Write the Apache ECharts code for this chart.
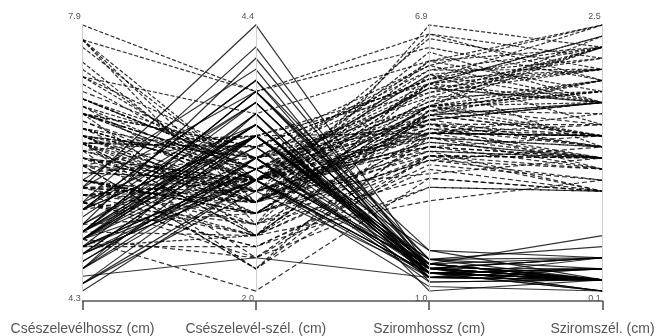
<!DOCTYPE html>
<html><head><meta charset="utf-8">
<script src="https://cdn.jsdelivr.net/npm/echarts@6/dist/echarts.min.js"></script>
<style>html,body{margin:0;background:#fff}#c{width:658px;height:336px;filter:blur(.7px)}</style>
</head><body><div id="c"></div>
<script>
const axisNames=['Csészelevélhossz (cm)','Csészelevél-szél. (cm)','Sziromhossz (cm)','Sziromszél. (cm)'];
const axisMin=[4.3,2.0,1.0,0.1];
const axisMax=[7.9,4.4,6.9,2.5];
const setosaSL=[5.1,4.9,4.7,4.6,5.0,5.4,4.6,5.0,4.4,4.9,5.4,4.8,4.8,4.3,5.8,5.7,5.4,5.1,5.7,5.1,5.4,5.1,4.6,5.1,4.8,5.0,5.0,5.2,5.2,4.7,4.8,5.4,5.2,5.5,4.9,5.0,5.5,4.9,4.4,5.1,5.0,4.5,4.4,5.0,5.1,4.8,5.1,4.6,5.3,5.0];
const setosaSW=[3.5,3.0,3.2,3.1,3.6,3.9,3.4,3.4,2.9,3.1,3.7,3.4,3.0,3.0,4.0,4.4,3.9,3.5,3.8,3.8,3.4,3.7,3.6,3.3,3.4,3.0,3.4,3.5,3.4,3.2,3.1,3.4,4.1,4.2,3.1,3.2,3.5,3.6,3.0,3.4,3.5,2.3,3.2,3.5,3.8,3.0,3.8,3.2,3.7,3.3];
const setosaPL=[1.4,1.4,1.3,1.5,1.4,1.7,1.4,1.5,1.4,1.5,1.5,1.6,1.4,1.1,1.2,1.5,1.3,1.4,1.7,1.5,1.7,1.5,1.0,1.7,1.9,1.6,1.6,1.5,1.4,1.6,1.6,1.5,1.5,1.4,1.5,1.2,1.3,1.4,1.3,1.5,1.3,1.3,1.3,1.6,1.9,1.4,1.6,1.4,1.5,1.4];
const setosaPW=[0.2,0.2,0.2,0.2,0.2,0.4,0.3,0.2,0.2,0.1,0.2,0.2,0.1,0.1,0.2,0.4,0.4,0.3,0.3,0.3,0.2,0.4,0.2,0.5,0.2,0.2,0.4,0.2,0.2,0.2,0.2,0.4,0.1,0.2,0.2,0.2,0.2,0.1,0.2,0.2,0.3,0.3,0.2,0.6,0.4,0.3,0.2,0.2,0.2,0.2];
const versiSL=[7.0,6.4,6.9,5.5,6.5,5.7,6.3,4.9,6.6,5.2,5.0,5.9,6.0,6.1,5.6,6.7,5.6,5.8,6.2,5.6,5.9,6.1,6.3,6.1,6.4,6.6,6.8,6.7,6.0,5.7,5.5,5.5,5.8,6.0,5.4,6.0,6.7,6.3,5.6,5.5,5.5,6.1,5.8,5.0,5.6,5.7,5.7,6.2,5.1,5.7];
const versiSW=[3.2,3.2,3.1,2.3,2.8,2.8,3.3,2.4,2.9,2.7,2.0,3.0,2.2,2.9,2.9,3.1,3.0,2.7,2.2,2.5,3.2,2.8,2.5,2.8,2.9,3.0,2.8,3.0,2.9,2.6,2.4,2.4,2.7,2.7,3.0,3.4,3.1,2.3,3.0,2.5,2.6,3.0,2.6,2.3,2.7,3.0,2.9,2.9,2.5,2.8];
const versiPL=[4.7,4.5,4.9,4.0,4.6,4.5,4.7,3.3,4.6,3.9,3.5,4.2,4.0,4.7,3.6,4.4,4.5,4.1,4.5,3.9,4.8,4.0,4.9,4.7,4.3,4.4,4.8,5.0,4.5,3.5,3.8,3.7,3.9,5.1,4.5,4.5,4.7,4.4,4.1,4.0,4.4,4.6,4.0,3.3,4.2,4.2,4.2,4.3,3.0,4.1];
const versiPW=[1.4,1.5,1.5,1.3,1.5,1.3,1.6,1.0,1.3,1.4,1.0,1.5,1.0,1.4,1.3,1.4,1.5,1.0,1.5,1.1,1.8,1.3,1.5,1.2,1.3,1.4,1.4,1.7,1.5,1.0,1.1,1.0,1.2,1.6,1.5,1.6,1.5,1.3,1.3,1.3,1.2,1.4,1.2,1.0,1.3,1.2,1.3,1.3,1.1,1.3];
const virgiSL=[6.3,5.8,7.1,6.3,6.5,7.6,4.9,7.3,6.7,7.2,6.5,6.4,6.8,5.7,5.8,6.4,6.5,7.7,7.7,6.0,6.9,5.6,7.7,6.3,6.7,7.2,6.2,6.1,6.4,7.2,7.4,7.9,6.4,6.3,6.1,7.7,6.3,6.4,6.0,6.9,6.7,6.9,5.8,6.8,6.7,6.7,6.3,6.5,6.2,5.9];
const virgiSW=[3.3,2.7,3.0,2.9,3.0,3.0,2.5,2.9,2.5,3.6,3.2,2.7,3.0,2.5,2.8,3.2,3.0,3.8,2.6,2.2,3.2,2.8,2.8,2.7,3.3,3.2,2.8,3.0,2.8,3.0,2.8,3.8,2.8,2.8,2.6,3.0,3.4,3.1,3.0,3.1,3.1,3.1,2.7,3.2,3.3,3.0,2.5,3.0,3.4,3.0];
const virgiPL=[6.0,5.1,5.9,5.6,5.8,6.6,4.5,6.3,5.8,6.1,5.1,5.3,5.5,5.0,5.1,5.3,5.5,6.7,6.9,5.0,5.7,4.9,6.7,4.9,5.7,6.0,4.8,4.9,5.6,5.8,6.1,6.4,5.6,5.1,5.6,6.1,5.6,5.5,4.8,5.4,5.6,5.1,5.1,5.9,5.7,5.2,5.0,5.2,5.4,5.1];
const virgiPW=[2.5,1.9,2.1,1.8,2.2,2.1,1.7,1.8,1.8,2.5,2.0,1.9,2.1,2.0,2.4,2.3,1.8,2.2,2.3,1.5,2.3,2.0,2.0,1.8,2.1,1.8,1.8,1.8,2.1,1.6,1.9,2.0,2.2,1.5,1.4,2.3,2.4,1.8,1.8,2.1,2.4,2.3,1.9,2.3,2.5,2.3,1.9,2.0,2.3,1.8];
const rows=(a,b,c,d)=>a.map((v,i)=>[v,b[i],c[i],d[i]]);
const mkSeries=(data,type)=>({type:'parallel',parallelIndex:0,data,smooth:false,silent:true,animation:false,
  lineStyle:{color:'#000',width:1.2,opacity:.8,type}});
const chart=echarts.init(document.getElementById('c'));
chart.setOption({
  animation:false,backgroundColor:'#fff',
  grid:{left:82.5,right:55.5,top:25,height:276.5},
  xAxis:{type:'category',data:axisNames,boundaryGap:false,position:'bottom',
    axisLine:{lineStyle:{color:'#555',width:1.6}},
    axisTick:{alignWithLabel:true,length:9,lineStyle:{color:'#555',width:1.6}},
    axisLabel:{interval:0,margin:21,color:'#555',fontFamily:'Liberation Sans',fontSize:14}},
  yAxis:{show:false,min:0,max:1},
  parallel:{left:82.5,right:55.5,top:25,bottom:45,parallelAxisDefault:{nameTextStyle:{color:'transparent'}}},
  parallelAxis:axisNames.map((n,i)=>({dim:i,name:'',min:axisMin[i],max:axisMax[i],type:'value',
    axisLine:{lineStyle:{color:'#cfcfcf',width:1}},
    axisTick:{show:false},
    axisLabel:{customValues:[axisMin[i],axisMax[i]],showMinLabel:true,showMaxLabel:true,margin:-8,align:'center',
      color:'#555',fontFamily:'Liberation Sans',fontSize:9,lineHeight:8,
      formatter:v=>v===axisMax[i]?v.toFixed(1)+'\n\n':'\n\n'+v.toFixed(1)}})),
  series:[mkSeries(rows(setosaSL,setosaSW,setosaPL,setosaPW),'solid'),
          mkSeries(rows(versiSL,versiSW,versiPL,versiPW),[5,3]),
          mkSeries(rows(virgiSL,virgiSW,virgiPL,virgiPW),[4,2])]
});
</script></body></html>
